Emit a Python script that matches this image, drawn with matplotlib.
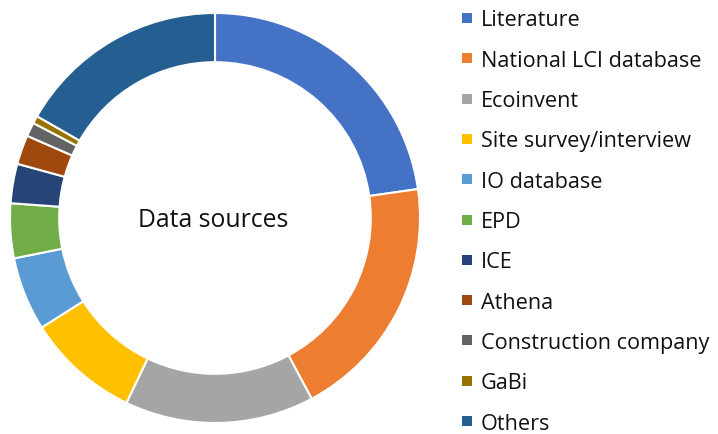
import matplotlib
matplotlib.use("Agg")
import matplotlib.pyplot as plt
from matplotlib.patches import Rectangle

# share of studies per data source (%)
sources = ["Literature", "National LCI database", "Ecoinvent", "Site survey/interview",
           "IO database", "EPD", "ICE", "Athena", "Construction company", "GaBi", "Others"]
shares = [22.7, 19.4, 14.9, 8.9, 5.8, 4.3, 3.1, 2.3, 1.1, 0.6, 16.7]
colors = ["#4472C4", "#ED7D31", "#A5A5A5", "#FFC000", "#5B9BD5", "#70AD47",
          "#264478", "#9E480E", "#636363", "#997300", "#255E91"]

W, H = 718, 434
plt.rcParams["font.family"] = ["Open Sans", "DejaVu Sans"]

fig = plt.figure(figsize=(W / 100, H / 100), dpi=100)

# ring: centre (215, 218) px from top-left, outer radius 205 px
cx, cy, r = 215, 218, 205
ax = fig.add_axes([(cx - r) / W, (H - cy - r) / H, 2 * r / W, 2 * r / H])
wedges, _ = ax.pie(shares, colors=colors, startangle=90, counterclock=False,
                   radius=1, wedgeprops=dict(width=0.24, edgecolor="white", linewidth=1.5))
ax.set_xlim(-1, 1)
ax.set_ylim(-1, 1)
ax.set_aspect("equal")
ax.axis("off")
ax.text(-0.01, -0.01, "Data sources", ha="center", va="center", fontsize=17.8, color="#111111")

# legend drawn by hand so the rows land where they do in the original
y0, step = 18, 40.3
for i, (lab, col) in enumerate(zip(sources, colors)):
    y = y0 + i * step
    fig.patches.append(Rectangle(((462) / W, (H - y - 5) / H), 10 / W, 10 / H,
                                 transform=fig.transFigure, facecolor=col,
                                 edgecolor="none"))
    fig.text(481 / W, (H - y - 8.5) / H, lab, ha="left", va="baseline",
             fontsize=15.6, color="#111111")

fig.savefig("out.png", dpi=100)
